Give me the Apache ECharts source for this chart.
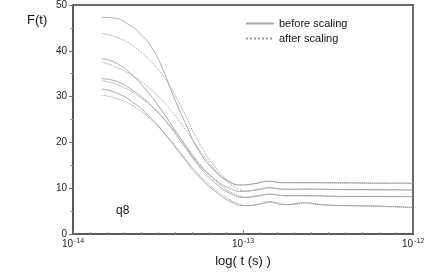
<!DOCTYPE html>
<html><head><meta charset="utf-8">
<script src="https://cdn.jsdelivr.net/npm/echarts@6/dist/echarts.min.js"></script>
<style>html,body{margin:0;padding:0;background:#fff}#c{width:436px;height:273px}</style>
</head><body><div id="c"></div>
<script>
// x values are log10(t / s)
var yTicks = [0, 10, 20, 30, 40, 50];
var xTickLabels = {'-14': '-14', '-13': '-13', '-12': '-12'};
var legendNames = ['before scaling', 'after scaling'];

var before1 = [[-13.83,47.3],[-13.75,47.1],[-13.68,45.9],[-13.6,43.6],[-13.53,40.3],[-13.47,35.8],[-13.41,30.2],[-13.34,24.3],[-13.26,18.2],[-13.17,13.9],[-13.08,11.4],[-13.01,10.7],[-12.93,11.0],[-12.85,11.5],[-12.76,11.2],[-12.65,11.2],[-12.4,11.2],[-12.2,11.1],[-12.0,11.1]];
var after1  = [[-13.83,43.8],[-13.72,42.6],[-13.62,40.3],[-13.54,37.6],[-13.45,33.4],[-13.36,27.5],[-13.27,20.7],[-13.17,14.9],[-13.08,11.5],[-13.01,10.7],[-12.93,11.0],[-12.85,11.5],[-12.76,11.2],[-12.62,11.2],[-12.4,11.1],[-12.2,11.1],[-12.0,11.1]];
var before2 = [[-13.83,38.3],[-13.75,37.4],[-13.66,35],[-13.56,31],[-13.46,26],[-13.36,20.5],[-13.26,15.3],[-13.16,11.8],[-13.08,10.0],[-13.01,9.3],[-12.93,9.6],[-12.85,10.1],[-12.76,9.8],[-12.62,9.8],[-12.4,9.7],[-12.2,9.7],[-12.0,9.6]];
var after2  = [[-13.83,37.6],[-13.72,36],[-13.62,33.8],[-13.52,30.8],[-13.42,26.8],[-13.32,21.8],[-13.22,16.5],[-13.12,12.3],[-13.04,10.1],[-12.98,9.4],[-12.9,9.7],[-12.84,10.1],[-12.75,9.7],[-12.6,9.8],[-12.4,9.7],[-12.2,9.6],[-12.0,9.6]];
var before3 = [[-13.83,33.9],[-13.75,33.4],[-13.65,31.4],[-13.55,28.4],[-13.45,24.4],[-13.35,19.4],[-13.25,14.4],[-13.15,10.7],[-13.07,8.8],[-13.0,8.0],[-12.92,8.3],[-12.85,8.7],[-12.76,8.4],[-12.62,8.4],[-12.4,8.2],[-12.2,8.2],[-12.0,8.2]];
var after3  = [[-13.83,33.5],[-13.72,32.3],[-13.62,30.2],[-13.52,27.2],[-13.42,23.3],[-13.32,18.5],[-13.22,13.8],[-13.12,10.3],[-13.04,8.6],[-12.98,8.0],[-12.9,8.3],[-12.83,8.7],[-12.74,8.3],[-12.6,8.3],[-12.4,8.2],[-12.2,8.2],[-12.0,8.1]];
var before4 = [[-13.83,31.6],[-13.75,30.9],[-13.65,28.8],[-13.55,25.6],[-13.45,21.4],[-13.35,16.6],[-13.25,12.2],[-13.15,8.9],[-13.07,7.0],[-13.0,6.2],[-12.92,6.4],[-12.85,7.0],[-12.76,6.4],[-12.64,6.8],[-12.55,6.4],[-12.4,6.2],[-12.2,6.1],[-12.0,5.8]];
var after4  = [[-13.83,30.3],[-13.72,29.3],[-13.62,27.3],[-13.52,24.2],[-13.42,20.2],[-13.32,15.6],[-13.22,11.5],[-13.12,8.5],[-13.04,6.8],[-12.98,6.2],[-12.9,6.5],[-12.83,7.0],[-12.73,6.4],[-12.62,6.8],[-12.52,6.4],[-12.3,6.1],[-12.0,5.8]];

var solids = [before1, before2, before3, before4];
var dots = [after1, after2, after3, after4];
var series = [];
solids.forEach(function (d) {
  series.push({name: legendNames[0], type: 'line', data: d, smooth: 0.5, symbol: 'none',
    lineStyle: {color: '#a9a9a9', width: 1, type: 'solid'}, itemStyle: {color: '#a9a9a9'}});
});
dots.forEach(function (d) {
  series.push({name: legendNames[1], type: 'line', data: d, smooth: 0.5, symbol: 'none',
    lineStyle: {color: '#9a9a9a', width: 1, type: 'dotted'}, itemStyle: {color: '#9a9a9a'}});
});

var chart = echarts.init(document.getElementById('c'));
chart.setOption({
  animation: false,
  textStyle: {fontFamily: 'Liberation Sans, Arial, sans-serif'},
  grid: {left: 73, right: 23, top: 5, bottom: 30, show: true, borderColor: '#6a6a6a', borderWidth: 2},
  legend: {
    data: legendNames, orient: 'vertical', left: 240, top: 13, itemWidth: 28, itemHeight: 8, itemGap: 4,
    itemStyle: {opacity: 0},
    textStyle: {fontSize: 11, color: '#111', fontFamily: 'Liberation Sans, Arial, sans-serif'}
  },
  xAxis: {
    type: 'value', min: -14, max: -12, interval: 1,
    name: 'log( t (s) )', nameLocation: 'middle', nameGap: 21,
    nameTextStyle: {fontSize: 13, color: '#111'},
    axisLine: {lineStyle: {color: '#555', width: 1.5}},
    axisTick: {inside: true, length: 4, lineStyle: {color: '#777'}},
    minorTick: {show: true, splitNumber: 10, length: 2, lineStyle: {color: '#999'}},
    splitLine: {show: false},
    axisLabel: {
      margin: 4, color: '#222',
      formatter: function (v) { return '{a|10}{b|' + xTickLabels[String(v)] + '}'; },
      rich: {a: {fontSize: 10, color: '#222'}, b: {fontSize: 7, color: '#222', verticalAlign: 'top', padding: [0, 0, 5, 1]}}
    }
  },
  yAxis: {
    type: 'value', min: yTicks[0], max: yTicks[yTicks.length - 1], interval: 10,
    axisLine: {lineStyle: {color: '#555', width: 1.5}},
    axisTick: {show: true, length: 4, lineStyle: {color: '#777'}},
    minorTick: {show: true, splitNumber: 2, length: 3, lineStyle: {color: '#999'}},
    splitLine: {show: false},
    axisLabel: {margin: 6, fontSize: 10, color: '#222'}
  },
  graphic: [
    {type: 'text', left: 27, top: 14, style: {text: 'F(t)', fontSize: 13, fill: '#111', fontFamily: 'Liberation Sans, Arial, sans-serif'}},
    {type: 'text', left: 116, top: 205, style: {text: 'q8', fontSize: 12, fill: '#111', fontFamily: 'Liberation Sans, Arial, sans-serif'}}
  ],
  series: series
});
</script></body></html>
